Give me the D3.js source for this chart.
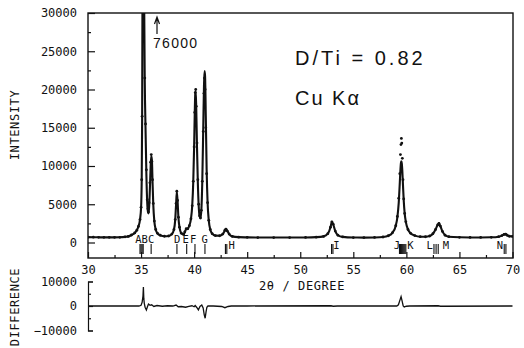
<!DOCTYPE html>
<html>
<head>
<meta charset="utf-8">
<script src="https://cdn.jsdelivr.net/npm/d3@7"></script>
<style>
  body { margin: 0; background: #fff; }
  text { fill: #111; }
</style>
</head>
<body>
<div id="chart"></div>
<script>
const twoTheta = [
  30.0, 30.5, 31.0, 31.5, 32.0, 32.5, 33.0, 33.5, 33.8, 34.1, 34.4, 34.6, 34.75, 34.9,
  35.0, 35.06, 35.1, 35.14, 35.17, 35.2, 35.23, 35.26, 35.3, 35.35, 35.42, 35.5, 35.58,
  35.65, 35.7, 35.76, 35.83, 35.9, 35.96, 36.02, 36.08, 36.15, 36.25, 36.38, 36.55, 36.8,
  37.2, 37.6, 37.9, 38.1, 38.22, 38.3, 38.37, 38.44, 38.52, 38.62, 38.8, 39.0, 39.12,
  39.25, 39.4, 39.55, 39.7, 39.82, 39.92, 40.0, 40.06, 40.11, 40.15, 40.2, 40.27, 40.35,
  40.43, 40.52, 40.6, 40.68, 40.77, 40.86, 40.93, 40.98, 41.03, 41.1, 41.18, 41.27,
  41.38, 41.52, 41.7, 42.0, 42.4, 42.7, 42.9, 43.0, 43.12, 43.3, 43.6, 44.2, 45.0, 46.0,
  47.5, 49.0, 50.5, 51.5, 52.2, 52.6, 52.85, 52.98, 53.1, 53.3, 53.55, 54.0, 55.0, 56.0,
  57.0, 57.8, 58.3, 58.7, 59.0, 59.15, 59.28, 59.38, 59.44, 59.49, 59.53, 59.57, 59.62,
  59.68, 59.75, 59.84, 59.95, 60.15, 60.4, 60.8, 61.3, 61.8, 62.2, 62.5, 62.75, 62.95,
  63.07, 63.2, 63.4, 63.65, 64.0, 65.0, 66.0, 67.0, 68.0, 68.7, 69.0, 69.2, 69.35, 69.5,
  69.7, 70.0
];
const calcIntensity = [
  700, 690, 680, 670, 670, 670, 680, 740, 800, 980, 1250, 1600, 2100, 3000,
  4500, 8000, 16000, 35000, 60000, 76000, 64000, 44000, 30000, 21000, 15000, 9000, 5200,
  4000, 3800, 4600, 7000, 9800, 11300, 10800, 8000, 5000, 2800, 1700, 1200, 950,
  820, 850, 1100, 1700, 3000, 5000, 6600, 5400, 3300, 2000, 1200, 1050, 1350,
  1750, 1800, 2200, 3100, 4800, 8000, 12500, 17000, 19500, 19800, 17500, 12500, 7800,
  4800, 3400, 3200, 4200, 8000, 15000, 20500, 22400, 21800, 16500, 9500, 5200,
  2900, 1700, 1150, 900, 880, 1100, 1550, 1750, 1550, 1100, 800, 700, 670, 650,
  650, 650, 660, 700, 800, 1150, 2000, 2700, 2400, 1500, 950, 730, 650, 640,
  660, 720, 880, 1300, 2200, 3300, 5200, 7800, 9500, 10400, 10600, 10300, 9300,
  7500, 5500, 3800, 2700, 1700, 1200, 900, 760, 750, 850, 1150, 1700, 2300,
  2500, 2150, 1450, 950, 760, 680, 660, 660, 680, 760, 900, 1050, 1100, 950,
  820, 800
];
const obsIntensity = [
  700, 690, 680, 670, 670, 670, 680, 740, 800, 980, 1250, 1600, 2100, 3000,
  4600, 8200, 16500, 36000, 62000, 76000, 66000, 45000, 30500, 21500, 15500, 9500, 5600,
  4400, 4000, 5200, 7800, 10500, 11500, 10600, 8200, 5100, 2800, 1700, 1200, 950,
  820, 850, 1100, 1700, 3000, 5100, 6700, 5500, 3300, 2000, 1200, 1050, 1400,
  1800, 1800, 2200, 3100, 4800, 8000, 12500, 17000, 19600, 20000, 17800, 13000, 8200,
  5000, 3500, 3200, 4200, 8000, 14500, 19500, 21500, 20000, 15000, 9000, 5200,
  2900, 1700, 1150, 900, 880, 1100, 1600, 1750, 1500, 1100, 800, 700, 670, 650,
  650, 650, 660, 700, 800, 1150, 2000, 2700, 2400, 1500, 950, 730, 650, 640,
  660, 720, 880, 1300, 2200, 3400, 5800, 9000, 11500, 12800, 13600, 13000, 11000,
  8200, 5700, 3800, 2700, 1700, 1200, 900, 760, 750, 850, 1150, 1700, 2300,
  2500, 2150, 1450, 950, 760, 680, 660, 660, 680, 760, 900, 1050, 1100, 950,
  820, 800
];

// Difference (obs - calc) curve
const diffTheta = [
  30.0, 34.8, 35.0, 35.1, 35.18, 35.22, 35.26, 35.3, 35.38, 35.5, 35.6, 35.7, 35.85, 36.0,
  36.2, 36.5, 37.0, 37.5, 38.0, 38.3, 38.5, 38.8, 39.2, 39.5, 39.8, 40.0, 40.1, 40.25,
  40.4, 40.55, 40.72, 40.85, 40.95, 41.04, 41.12, 41.2, 41.3, 41.8, 42.6, 42.9, 43.2,
  43.5, 45.0, 52.9, 53.1, 53.5, 59.1, 59.25, 59.4, 59.5, 59.6, 59.7, 59.8, 60.0, 60.3,
  63.0, 63.2, 70.0
];
const diffValues = [
  0, 0, 300, 1500, 4000, 7700, 3000, 1200, -500, -1600, -300, 800, 300, 500,
  -200, 200, -100, 100, 0, 400, -300, -200, -500, -200, 100, -300, 200, -600,
  -1600, -200, 400, -800, -3500, -5000, -2500, -500, 0, 0, -200, -700, -200,
  0, 0, 100, -100, 0, 0, 500, 2500, 3800, 2000, 0, -400, -100, 0,
  100, -100, 0
];

// Reflection markers and peak letters
const reflectionTheta = [
  34.9, 35.0, 35.1, 35.2, 35.95, 38.38, 39.3, 40.08, 41.02, 42.95, 43.08, 52.95, 53.08,
  59.35, 59.45, 59.55, 59.65, 59.75, 59.85, 59.95, 62.6, 62.8, 63.0, 69.22, 69.38
];
const peakLetters = ["ABC", "D", "E", "F", "G", "H", "I", "J", "K", "L", "M", "N"];
const peakLetterTheta = [35.35, 38.4, 39.2, 39.92, 41.0, 43.54, 53.4, 59.1, 60.38, 62.2, 63.73, 68.82];
const peakLetterLow = [false, false, false, false, false, true, true, true, true, true, true, true];

const xMajorTicks = [30, 35, 40, 45, 50, 55, 60, 65, 70];
const xMinorTicks = [32.5, 37.5, 42.5, 47.5, 52.5, 57.5, 62.5, 67.5];
const yMajorTicks = [0, 5000, 10000, 15000, 20000, 25000, 30000];
const yMinorTicks = [2500, 7500, 12500, 17500, 22500, 27500];
const diffMajorTicks = [-10000, 0, 10000];
const diffMinorTicks = [-5000, 5000];

function createChart(containerId) {
  const width = 524;
  const height = 348;
  const mono = "'DejaVu Sans Mono', monospace";
  const sans = "'Liberation Sans', Arial, sans-serif";

  const frame = { left: 88, right: 513, top: 13, bottom: 258 };
  const diffBox = { top: 281.5, bottom: 330.5 };

  const svg = d3
    .select(containerId)
    .append("svg")
    .attr("width", width)
    .attr("height", height);

  const xScale = d3.scaleLinear().domain([30, 70]).range([frame.left, 512.5]);
  const yScale = d3.scaleLinear().domain([0, 30000]).range([242.5, frame.top]);
  const dScale = d3.scaleLinear().domain([-10000, 10000]).range([diffBox.bottom, diffBox.top]);

  svg
    .append("clipPath")
    .attr("id", "plotClip")
    .append("rect")
    .attr("x", frame.left)
    .attr("y", frame.top)
    .attr("width", frame.right - frame.left)
    .attr("height", frame.bottom - frame.top);

  const profile = twoTheta.map((t, i) => ({ t: t, calc: calcIntensity[i], obs: obsIntensity[i] }));

  // Calculated line + observed dots

  const plot = svg.append("g").attr("clip-path", "url(#plotClip)");

  const line = d3
    .line()
    .x((d) => xScale(d.t))
    .y((d) => yScale(d.calc))
    .curve(d3.curveMonotoneX);

  plot
    .append("path")
    .datum(profile)
    .attr("fill", "none")
    .attr("stroke", "#111")
    .attr("stroke-width", 2.1)
    .attr("d", line);

  plot
    .selectAll("circle")
    .data(profile)
    .enter()
    .append("circle")
    .attr("cx", (d) => xScale(d.t))
    .attr("cy", (d) => yScale(d.obs))
    .attr("r", 1.4)
    .style("fill", "#111");

  // Frame

  svg
    .append("rect")
    .attr("x", frame.left)
    .attr("y", frame.top)
    .attr("width", frame.right - frame.left)
    .attr("height", frame.bottom - frame.top)
    .attr("fill", "none")
    .attr("stroke", "#111")
    .attr("stroke-width", 1.4);

  // Axis

  const xAxis = svg
    .append("g")
    .attr("transform", `translate(0, ${frame.bottom})`)
    .call(d3.axisBottom(xScale).tickValues(xMajorTicks).tickSize(-6).tickPadding(7));
  xAxis.append("g").call(d3.axisBottom(xScale).tickValues(xMinorTicks).tickSize(-3).tickFormat(""));

  const yAxis = svg
    .append("g")
    .attr("transform", `translate(${frame.left}, 0)`)
    .call(d3.axisLeft(yScale).tickValues(yMajorTicks).tickSize(-7).tickPadding(11).tickFormat(d3.format("d")));
  yAxis.append("g").call(d3.axisLeft(yScale).tickValues(yMinorTicks).tickSize(-3).tickFormat(""));

  [xAxis, yAxis].forEach((g) => {
    g.selectAll(".domain").remove();
    g.selectAll("line").attr("stroke", "#111").attr("stroke-width", 1.2);
    g.selectAll("text").style("font-family", mono).style("font-size", "12px").attr("fill", "#111");
  });

  svg
    .append("text")
    .attr("x", 302)
    .attr("y", 290)
    .attr("text-anchor", "middle")
    .style("font-family", mono)
    .style("font-size", "12px")
    .style("letter-spacing", "0.6px")
    .text("2θ / DEGREE");

  svg
    .append("text")
    .attr("transform", "translate(19, 125) rotate(-90)")
    .attr("text-anchor", "middle")
    .style("font-family", mono)
    .style("font-size", "12px")
    .style("letter-spacing", "0.6px")
    .text("INTENSITY");

  // Reflection markers and letters

  svg
    .append("g")
    .selectAll("line")
    .data(reflectionTheta)
    .enter()
    .append("line")
    .attr("x1", (d) => xScale(d))
    .attr("x2", (d) => xScale(d))
    .attr("y1", 244)
    .attr("y2", 254)
    .attr("stroke", "#111")
    .attr("stroke-width", 1.1);

  svg
    .append("g")
    .selectAll("text")
    .data(peakLetters)
    .enter()
    .append("text")
    .attr("x", (d, i) => xScale(peakLetterTheta[i]))
    .attr("y", (d, i) => (peakLetterLow[i] ? 249 : 243))
    .attr("text-anchor", "middle")
    .style("font-family", mono)
    .style("font-size", "10.5px")
    .text((d) => d);

  // Annotations

  svg
    .append("path")
    .attr("d", "M157,34V18M154.5,24L157,17L159.5,24")
    .attr("fill", "none")
    .attr("stroke", "#111")
    .attr("stroke-width", 1.2);

  svg
    .append("text")
    .attr("x", 153)
    .attr("y", 48)
    .style("font-family", sans)
    .style("font-size", "14px")
    .style("letter-spacing", "1.3px")
    .text("76000");

  svg
    .append("text")
    .attr("x", 295)
    .attr("y", 65)
    .style("font-family", sans)
    .style("font-size", "20px")
    .style("letter-spacing", "3px")
    .text("D/Ti = 0.82");

  svg
    .append("text")
    .attr("x", 295)
    .attr("y", 105)
    .style("font-family", sans)
    .style("font-size", "20px")
    .style("letter-spacing", "2px")
    .text("Cu Kα");

  // Difference panel

  const diffData = diffTheta.map((t, i) => ({ t: t, v: diffValues[i] }));

  svg
    .append("path")
    .datum(diffData)
    .attr("fill", "none")
    .attr("stroke", "#111")
    .attr("stroke-width", 1.3)
    .attr("d", d3.line().x((d) => xScale(d.t)).y((d) => dScale(d.v)));

  const dAxis = svg
    .append("g")
    .attr("transform", `translate(${frame.left}, 0)`)
    .call(d3.axisLeft(dScale).tickValues(diffMajorTicks).tickSize(-5).tickSizeOuter(-5).tickPadding(11).tickFormat(d3.format("d")));
  dAxis.append("g").call(d3.axisLeft(dScale).tickValues(diffMinorTicks).tickSize(-3).tickSizeOuter(0).tickFormat(""));
  dAxis.selectAll("g .domain").filter(function () { return this.parentNode !== dAxis.node(); }).remove();
  dAxis.selectAll("path, line").attr("stroke", "#111").attr("stroke-width", 1.2);
  dAxis.selectAll("text").style("font-family", mono).style("font-size", "12px").attr("fill", "#111");

  svg
    .append("text")
    .attr("transform", "translate(19, 307) rotate(-90)")
    .attr("text-anchor", "middle")
    .style("font-family", mono)
    .style("font-size", "12px")
    .style("letter-spacing", "0.6px")
    .text("DIFFERENCE");
}

createChart("#chart");
</script>
</body>
</html>
